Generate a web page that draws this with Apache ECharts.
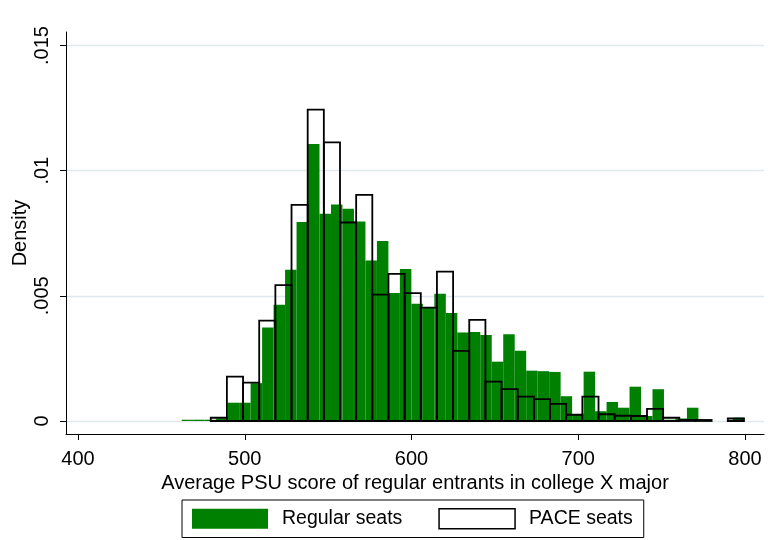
<!DOCTYPE html>
<html>
<head>
<meta charset="utf-8">
<script src="https://cdn.jsdelivr.net/npm/echarts@6/dist/echarts.min.js"></script>
<style>html,body{margin:0;padding:0;background:#fff;}#c{width:772px;height:540px;}</style>
</head>
<body>
<div id="c"></div>
<script>
// Histogram bins: Regular seats (green)
const regularStart = 462.2;
const regularWidth = 6.886;
const regularDensity = [
  0.00005, 0.00005, 0.00005, 0.0001, 0.00073, 0.00073, 0.00151, 0.00373, 0.00464, 0.00604,
  0.00795, 0.01107, 0.00828, 0.00865, 0.00848, 0.00797, 0.00641, 0.00719, 0.00511, 0.00607,
  0.00468, 0.00451, 0.00508, 0.00431, 0.00353, 0.00355, 0.00344, 0.00237, 0.00347, 0.00281,
  0.00201, 0.00199, 0.00196, 0.00099, 0.00028, 0.00197, 0.00039, 0.00076, 0.00053, 0.00137,
  0.0002, 0.00127, 0.00005, 0.0001, 0.00053, 0.00005, 0, 0, 0.00013
];
// Histogram bins: PACE seats (outline)
const paceStart = 479.6;
const paceWidth = 9.69;
const paceDensity = [
  0.00013, 0.00177, 0.00153, 0.00401, 0.00543, 0.00863, 0.01244, 0.01113, 0.00793, 0.00903,
  0.00505, 0.00588, 0.00511, 0.00453, 0.00597, 0.0028, 0.00404, 0.00157, 0.00127, 0.00097,
  0.00087, 0.00068, 0.00025, 0.00097, 0.00027, 0.00021, 0.0002, 0.00048, 0.00013, 0.00004,
  0.00004, 0, 0.0001
];
const xTicks = [400, 500, 600, 700, 800];
const yTicks = [0, 0.005, 0.01, 0.015];
const yTickLabels = ['0', '.005', '.01', '.015'];
const seriesNames = ['Regular seats', 'PACE seats'];

const FONT = "'Liberation Sans', Arial, sans-serif";

function bins(start, width, dens) {
  return dens.map((d, i) => [start + i * width, start + (i + 1) * width, d]);
}

function makeRender(style) {
  return function (params, api) {
    const h = api.value(2);
    if (!(h > 0)) return null;
    const p0 = api.coord([api.value(0), h]);
    const p1 = api.coord([api.value(1), 0]);
    return {
      type: 'rect',
      shape: { x: p0[0], y: p0[1], width: p1[0] - p0[0], height: p1[1] - p0[1] },
      style: style
    };
  };
}

const chart = echarts.init(document.getElementById('c'), null, { renderer: 'canvas' });
chart.setOption({
  animation: false,
  backgroundColor: '#fff',
  grid: { left: 66, right: 8, top: 32, bottom: 106, containLabel: false, outerBoundsMode: 'none' },
  xAxis: {
    type: 'value', min: 392.8, max: 811.4,
    name: 'Average PSU score of regular entrants in college X major',
    nameLocation: 'middle', nameGap: 34,
    nameTextStyle: { fontFamily: FONT, fontSize: 20, color: '#000' },
    axisLine: { show: true, onZero: false, lineStyle: { color: '#000', width: 1 } },
    axisTick: { show: true, length: 6, customValues: xTicks, lineStyle: { color: '#000', width: 1 } },
    axisLabel: { customValues: xTicks, margin: 15, fontFamily: FONT, fontSize: 20, color: '#000' },
    splitLine: { show: false }
  },
  yAxis: {
    type: 'value', min: -0.00052, max: 0.01554,
    name: 'Density', nameLocation: 'middle', nameGap: 36, nameRotate: 90, nameMoveOverlap: false,
    nameTextStyle: { fontFamily: FONT, fontSize: 20, color: '#000' },
    axisLine: { show: true, onZero: false, lineStyle: { color: '#000', width: 1 } },
    axisTick: { show: true, length: 6, customValues: yTicks, lineStyle: { color: '#000', width: 1 } },
    axisLabel: {
      customValues: yTicks, rotate: 90, margin: 14, fontFamily: FONT, fontSize: 20, color: '#000',
      formatter: function (v) {
        const i = yTicks.findIndex(t => Math.abs(t - v) < 1e-9);
        return i >= 0 ? yTickLabels[i] : '';
      }
    },
    splitLine: { show: true, lineStyle: { color: '#dfe8ec', width: 1.3 } }
  },
  legend: {
    left: 182, top: 500, orient: 'horizontal',
    padding: [8, 11, 8, 10], itemWidth: 76, itemHeight: 20, itemGap: 36,
    borderColor: '#000', borderWidth: 1, backgroundColor: '#fff',
    textStyle: { fontFamily: FONT, fontSize: 19.5, color: '#000', padding: [0, 0, 0, 9] },
    data: [
      { name: seriesNames[0], icon: 'rect', itemStyle: { color: '#008000', borderWidth: 0 } },
      { name: seriesNames[1], icon: 'rect', itemStyle: { color: '#fff', borderColor: '#000', borderWidth: 1.5 } }
    ]
  },
  series: [
    {
      name: seriesNames[0], type: 'custom', clip: true,
      encode: { x: [0, 1], y: 2 },
      itemStyle: { color: '#008000' },
      renderItem: makeRender({ fill: '#008000', stroke: null }),
      data: bins(regularStart, regularWidth, regularDensity)
    },
    {
      name: seriesNames[1], type: 'custom', clip: true,
      encode: { x: [0, 1], y: 2 },
      itemStyle: { color: '#fff', borderColor: '#000' },
      renderItem: makeRender({ fill: 'rgba(0,0,0,0)', stroke: '#000', lineWidth: 1.8 }),
      data: bins(paceStart, paceWidth, paceDensity)
    }
  ]
});
</script>
</body>
</html>
